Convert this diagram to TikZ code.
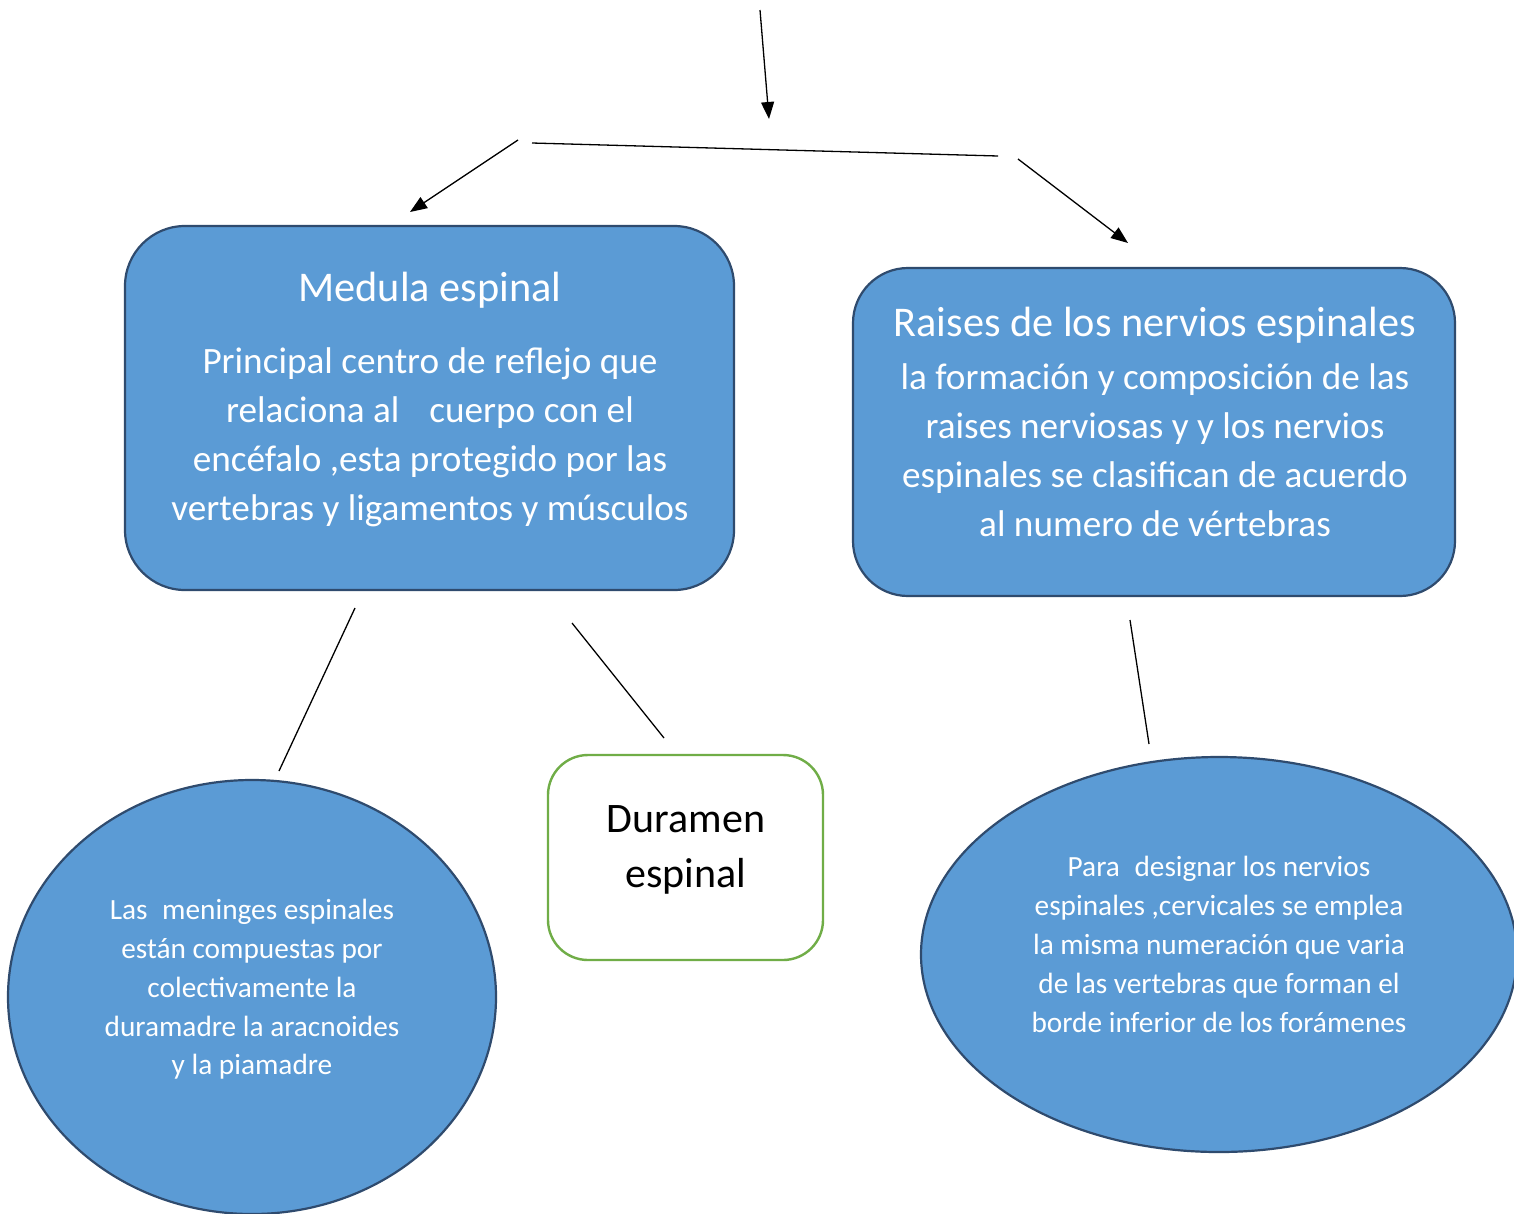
\documentclass[tikz,border=0pt]{standalone}
\usepackage{fontspec}
\setmainfont{Carlito}
\usetikzlibrary{arrows.meta,shapes.geometric}
\definecolor{bluefill}{HTML}{5B9BD5}
\definecolor{blueline}{HTML}{2F4B6E}
\definecolor{greenline}{HTML}{70AD47}
\tikzset{
  bluebox/.style={draw=blueline,fill=bluefill,line width=2.2pt,inner sep=0pt},
  greenbox/.style={draw=greenline,fill=white,line width=2.4pt,inner sep=0pt,rounded corners=40pt},
  blueell/.style={ellipse,draw=blueline,fill=bluefill,line width=2.2pt,inner sep=0pt},
  wtext/.style={text=white,align=center,inner sep=0pt},
  btext/.style={text=black,align=center,inner sep=0pt},
  conn/.style={draw=black,line width=1.3pt},
  arr/.style={conn,-{Triangle[length=17pt,width=13pt]}},
}
\begin{document}
\begin{tikzpicture}[x=1pt,y=-1pt]
\useasboundingbox (0,0) rectangle (1514,1213);
\fill[white] (0,0) rectangle (1514,1213);

% boxes
\node[bluebox,rounded corners=60pt,minimum width=609pt,minimum height=364pt] (med) at (429.5,408) {};
\node[bluebox,rounded corners=55pt,minimum width=602pt,minimum height=328pt] (rai) at (1154,432) {};
\node[greenbox,minimum width=275pt,minimum height=205pt] (dur) at (685.5,857.5) {};
\node[blueell,minimum width=488pt,minimum height=434pt] (men) at (252,997) {};
\node[blueell,minimum width=596pt,minimum height=395pt] (par) at (1219,954.5) {};

% texts
\node[wtext,font=\fontsize{42.3}{55}\selectfont] (medt) at (430,290.5) {Medula espinal};
\node[wtext,font=\fontsize{37.2}{49}\selectfont] (medb) at (430,437.5)
  {Principal centro de reflejo que\\ relaciona al\hspace{30pt}cuerpo con el\\ encéfalo ,esta protegido por las\\ vertebras y ligamentos y músculos};
\node[wtext,font=\fontsize{42.3}{55}\selectfont] (rait) at (1155,325) {Raises de los nervios espinales};
\node[wtext,font=\fontsize{37.2}{49}\selectfont] (raib) at (1155,450)
  {la formación y composición de las\\ raises nerviosas y y los nervios\\ espinales se clasifican de acuerdo\\ al numero de vértebras};
\node[btext,font=\fontsize{42}{55}\selectfont] (durt) at (686,849.5) {Duramen\\ espinal};
\node[wtext,font=\fontsize{29.3}{38.8}\selectfont] (ment) at (252,989.5)
  {Las\hspace{8pt} meninges espinales\\ están compuestas por\\ colectivamente la\\ duramadre la aracnoides\\ y la piamadre};
\node[wtext,font=\fontsize{29.3}{38.8}\selectfont] (part) at (1219,944.5)
  {Para\hspace{8pt} designar los nervios\\ espinales ,cervicales se emplea\\ la misma numeración que varia\\ de las vertebras que forman el\\ borde inferior de los forámenes};

% connector coordinates
\coordinate (a1) at (760,10);
\coordinate (a2) at (769,119);
\coordinate (h1) at (532,143);
\coordinate (h2) at (998,156);
\coordinate (l1) at (518,140);
\coordinate (l2) at (410,212);
\coordinate (r1) at (1018,159);
\coordinate (r2) at (1128,243);
\coordinate (m1) at (355,608);
\coordinate (m2) at (279,771);
\coordinate (d1) at (572,623);
\coordinate (d2) at (664,738);
\coordinate (p1) at (1130,620);
\coordinate (p2) at (1149,744);

\draw[arr] (a1) -- (a2);
\draw[conn] (h1) -- (h2);
\draw[arr] (l1) -- (l2);
\draw[arr] (r1) -- (r2);
\draw[conn] (m1) -- (m2);
\draw[conn] (d1) -- (d2);
\draw[conn] (p1) -- (p2);
\end{tikzpicture}
\end{document}
